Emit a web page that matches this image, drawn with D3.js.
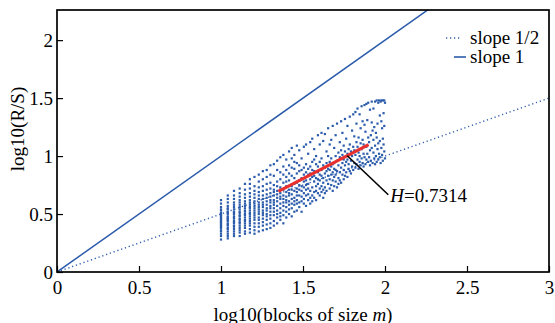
<!DOCTYPE html>
<html>
<head>
<meta charset="utf-8">
<script src="https://cdn.jsdelivr.net/npm/d3@7"></script>
<style>
  body { margin: 0; background: #fff; }
</style>
</head>
<body>
<div class="chart"></div>
<script>
// data: block sizes m and the R/S values (log10) read for each block
var blockSizes = d3.range(10, 101);
var rsValues = [
  [0.28,0.31,0.33,0.35,0.36,0.38,0.39,0.40,0.41,0.42,0.43,0.44,0.45,0.46,0.47,0.48,0.49,0.50,0.51,0.53,0.54,0.56,0.59,0.62],
  [0.29,0.31,0.33,0.35,0.37,0.38,0.40,0.41,0.42,0.44,0.45,0.46,0.47,0.48,0.50,0.51,0.52,0.54,0.55,0.57,0.60,0.63,0.66],
  [0.31,0.33,0.35,0.37,0.39,0.40,0.42,0.43,0.44,0.46,0.47,0.48,0.50,0.51,0.52,0.54,0.56,0.58,0.60,0.63,0.66,0.70],
  [0.31,0.34,0.36,0.38,0.40,0.42,0.43,0.45,0.46,0.48,0.49,0.51,0.52,0.54,0.56,0.58,0.60,0.62,0.65,0.68,0.72],
  [0.33,0.35,0.38,0.40,0.42,0.44,0.45,0.47,0.49,0.50,0.52,0.53,0.55,0.57,0.59,0.61,0.64,0.67,0.71,0.76],
  [0.34,0.37,0.40,0.42,0.44,0.46,0.48,0.50,0.51,0.53,0.55,0.56,0.58,0.60,0.62,0.65,0.68,0.72,0.76,0.80],
  [0.33,0.36,0.39,0.42,0.45,0.47,0.49,0.51,0.53,0.55,0.57,0.59,0.61,0.64,0.67,0.70,0.74,0.82],
  [0.35,0.39,0.42,0.45,0.47,0.50,0.52,0.54,0.56,0.58,0.60,0.63,0.66,0.69,0.73,0.78,0.84],
  [0.36,0.40,0.43,0.46,0.49,0.51,0.53,0.56,0.58,0.60,0.63,0.66,0.70,0.74,0.80,0.87],
  [0.37,0.41,0.45,0.48,0.50,0.53,0.55,0.58,0.61,0.64,0.67,0.71,0.76,0.82,0.88],
  [0.38,0.42,0.46,0.49,0.52,0.55,0.57,0.60,0.62,0.65,0.68,0.72,0.77,0.84,0.92],
  [0.62,0.44,0.71,0.55,0.83,0.49,0.66,0.93,0.58,0.40,0.75,0.60,0.52,0.69],
  [0.57,0.78,0.47,0.64,0.88,0.53,0.70,0.42,0.61,0.96,0.67,0.50,0.74],
  [0.68,0.51,0.86,0.59,0.45,0.73,0.63,0.99,0.55,0.80,0.48,0.65,0.71],
  [0.42,0.77,0.60,0.53,0.91,0.66,0.71,0.49,0.84,0.57,1.01,0.63],
  [0.74,0.56,0.47,0.82,0.65,0.97,0.52,0.69,0.60,0.88,0.78,0.62],
  [0.61,0.92,0.50,0.71,0.58,0.79,1.04,0.66,0.54,0.85,0.68],
  [0.83,0.55,0.67,0.98,0.48,0.74,0.63,0.90,0.59,1.07,0.71],
  [0.58,0.76,0.89,0.52,0.70,1.01,0.64,0.81,0.61,0.95],
  [0.72,0.53,0.94,0.66,0.85,0.59,1.09,0.77,0.69,0.62],
  [0.66,0.87,0.56,0.79,0.71,0.60,0.92,0.75,1.05],
  [0.81,0.61,0.70,0.52,0.88,0.74,0.98,0.65],
  [0.59,0.78,1.08,0.68,0.90,0.73,0.63,0.84],
  [0.93,0.71,0.57,0.86,0.66,0.79,0.75,1.10],
  [0.67,0.84,0.62,1.02,0.76,0.72,0.89],
  [0.80,1.12,0.64,0.91,0.70,0.85,0.59],
  [0.73,0.95,0.66,0.82,0.61,0.88,1.15],
  [0.87,0.69,1.06,0.78,0.64,0.83,0.97],
  [0.62,0.93,0.81,0.74,1.00,0.70],
  [0.91,0.76,1.18,0.68,0.86,0.80],
  [0.72,1.10,0.84,0.66,0.79,0.95],
  [0.98,0.74,0.88,1.20,0.69,0.83],
  [0.81,1.13,0.71,0.92,0.77,0.64],
  [0.90,0.73,1.19,0.85,0.68],
  [1.04,0.79,0.94,0.70,0.87],
  [0.76,1.00,0.89,1.24,0.83],
  [0.95,0.80,0.72,1.10,0.88],
  [0.84,1.14,0.75,0.98,0.91],
  [0.70,0.93,1.26,0.86,0.79],
  [1.07,0.82,0.94,0.74,0.89],
  [0.88,1.18,0.78,1.00,0.84],
  [0.96,0.73,1.28,0.87],
  [0.81,1.03,0.92,0.76],
  [1.12,0.86,0.99,0.79],
  [0.90,1.30,0.77,1.05],
  [1.01,0.84,0.94,1.20],
  [0.80,1.09,0.97,0.88],
  [0.92,1.32,0.83,1.04],
  [0.95,1.15,0.86],
  [1.02,0.82,1.26,0.97],
  [0.89,1.06,0.93],
  [1.10,0.87,1.34],
  [0.96,1.04,0.85],
  [1.22,0.91,1.00],
  [0.88,1.08,1.36],
  [1.17,0.94,1.05],
  [1.01,0.90,1.38],
  [0.93,1.12,1.28],
  [0.97,1.08,1.41],
  [0.89,1.16,1.03],
  [1.36,1.00,0.95],
  [1.11,0.92,1.24],
  [0.98,1.43,1.06],
  [1.30,0.94,1.14],
  [1.02,1.10,0.91],
  [1.27,0.99,1.44],
  [0.93,1.21],
  [1.08,1.45,0.97],
  [1.31,1.02],
  [0.95,1.16,1.46],
  [1.12,0.99],
  [1.05,1.40,0.92],
  [1.18,0.96],
  [1.29,1.07,1.47],
  [0.94,1.22],
  [1.41,1.03,1.14],
  [0.98,1.25],
  [1.47,1.09,0.93],
  [1.20,1.00],
  [0.95,1.48,1.16],
  [1.28,1.06],
  [1.11,0.97,1.46],
  [1.48,1.02],
  [0.99,1.35,1.13],
  [1.47,0.94],
  [1.07,1.30,1.48],
  [1.24,1.01],
  [0.96,1.48,1.15],
  [1.37,1.10],
  [1.04,1.48,1.26],
  [1.46,0.98]
];

// reference lines and fitted line
var xTicks = [0, 0.5, 1, 1.5, 2, 2.5, 3];
var yTicks = [0, 0.5, 1, 1.5, 2];
var hurst = 0.7314;
var fitIntercept = -0.2915;
var fitRange = [1.35, 1.9];
var legendLabels = ["slope 1/2", "slope 1"];

var blue = "#2b5bab";
var serif = "'Liberation Serif', 'Times New Roman', serif";
var fontSize = "19px";

// set margins
var width = 555, height = 323;
var margin = { left: 57, right: 6, top: 10, bottom: 51 };

var svg = d3.select(".chart")
  .append("svg")
    .attr("width", width)
    .attr("height", height);

var x = d3.scaleLinear().domain([0, 3]).range([margin.left, width - margin.right]);
var y = d3.scaleLinear().domain([0, 2.26]).range([height - margin.bottom, margin.top]);

// points
var points = [];
blockSizes.forEach(function(m, i) {
  rsValues[i].forEach(function(v) {
    points.push({ x: Math.log10(m), y: v });
  });
});

var plot = svg.append("g");

// small square markers
var dotSize = 2.2;
plot.selectAll(".dot")
  .data(points)
  .enter()
  .append("rect")
    .attr("class", "dot")
    .attr("x", function(d) { return x(d.x) - dotSize / 2; })
    .attr("y", function(d) { return y(d.y) - dotSize / 2; })
    .attr("width", dotSize)
    .attr("height", dotSize)
    .attr("fill", blue);

// clip for the slope lines
svg.append("clipPath").attr("id", "clip")
  .append("rect")
    .attr("x", x(0)).attr("y", y(2.26))
    .attr("width", x(3) - x(0)).attr("height", y(0) - y(2.26));

var line = d3.line().x(function(d) { return x(d[0]); }).y(function(d) { return y(d[1]); });

// slope 1
plot.append("path")
  .attr("d", line([[0, 0], [3, 3]]))
  .attr("clip-path", "url(#clip)")
  .attr("fill", "none")
  .attr("stroke", blue)
  .attr("stroke-width", 1.5);

// slope 1/2
plot.append("path")
  .attr("d", line([[0, 0], [3, 1.5]]))
  .attr("fill", "none")
  .attr("stroke", blue)
  .attr("stroke-width", 1.4)
  .attr("stroke-dasharray", "1.2,2.8");

// fitted line
plot.append("path")
  .attr("d", line(fitRange.map(function(v) { return [v, hurst * v + fitIntercept]; })))
  .attr("fill", "none")
  .attr("stroke", "#e8312f")
  .attr("stroke-width", 3.2);

// annotation
var annX = 1.77, annY = hurst * 1.77 + fitIntercept;
svg.append("line")
  .attr("x1", x(annX)).attr("y1", y(annY))
  .attr("x2", x(annX) + 41).attr("y2", y(annY) + 39)
  .attr("stroke", "#000")
  .attr("stroke-width", 1.6);

var ann = svg.append("text")
  .attr("x", x(annX) + 43)
  .attr("y", y(annY) + 46)
  .style("font-family", serif)
  .style("font-size", fontSize);
ann.append("tspan").style("font-style", "italic").text("H");
ann.append("tspan").text("=" + hurst);

// axes
var xAxis = svg.append("g")
  .attr("transform", "translate(0," + y(0) + ")")
  .call(d3.axisBottom(x).tickValues(xTicks).tickSize(-6).tickPadding(9)
    .tickFormat(function(d) { return d; }));
var yAxis = svg.append("g")
  .attr("transform", "translate(" + x(0) + ",0)")
  .call(d3.axisLeft(y).tickValues(yTicks).tickSize(-6).tickPadding(4)
    .tickFormat(function(d) { return d; }));

[xAxis, yAxis].forEach(function(a) {
  a.attr("font-family", null).attr("font-size", null);
  a.select(".domain").remove();
  a.selectAll("line").attr("stroke", "#000").attr("stroke-width", 1.2);
  a.selectAll("text")
    .attr("fill", "#000")
    .style("font-family", serif)
    .style("font-size", fontSize);
});

// frame
svg.append("rect")
  .attr("x", x(0)).attr("y", y(2.26))
  .attr("width", x(3) - x(0)).attr("height", y(0) - y(2.26))
  .attr("fill", "none")
  .attr("stroke", "#000")
  .attr("stroke-width", 1.7);

// axis labels
var xLabel = svg.append("text")
  .attr("x", (x(0) + x(3)) / 2)
  .attr("y", 321)
  .attr("text-anchor", "middle")
  .style("font-family", serif)
  .style("font-size", fontSize);
xLabel.append("tspan").text("log10(blocks of size ");
xLabel.append("tspan").style("font-style", "italic").text("m");
xLabel.append("tspan").text(")");

svg.append("text")
  .attr("transform", "translate(24," + 129 + ") rotate(-90)")
  .attr("text-anchor", "middle")
  .style("font-family", serif)
  .style("font-size", fontSize)
  .text("log10(R/S)");

// legend
var legend = svg.append("g");
legend.append("line")
  .attr("x1", 446).attr("x2", 460).attr("y1", 38).attr("y2", 38)
  .attr("stroke", blue).attr("stroke-width", 1.4).attr("stroke-dasharray", "1.2,2.8");
legend.append("line")
  .attr("x1", 454).attr("x2", 466).attr("y1", 57).attr("y2", 57)
  .attr("stroke", blue).attr("stroke-width", 1.6);
legend.selectAll(".lg")
  .data(legendLabels)
  .enter()
  .append("text")
    .attr("class", "lg")
    .attr("x", 470)
    .attr("y", function(d, i) { return 44 + i * 19; })
    .style("font-family", serif)
    .style("font-size", fontSize)
    .text(function(d) { return d; });
</script>
</body>
</html>
